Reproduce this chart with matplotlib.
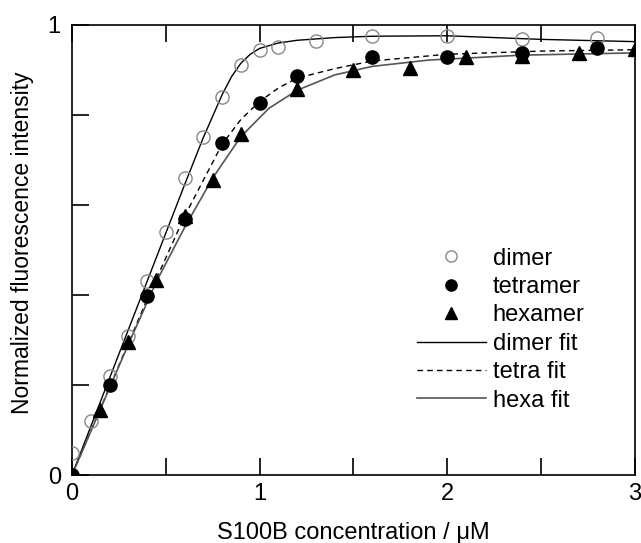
import matplotlib

matplotlib.use("Agg")
import matplotlib.pyplot as plt

plt.rcParams["font.family"] = ["Liberation Sans", "DejaVu Sans"]

DIMER_X = [0, 0.1, 0.2, 0.3, 0.4, 0.5, 0.6, 0.7, 0.8, 0.9, 1.0, 1.1, 1.3, 1.6, 2.0, 2.4, 2.8]
DIMER_Y = [0.05, 0.12, 0.22, 0.31, 0.43, 0.54, 0.66, 0.75, 0.84, 0.91, 0.945, 0.952,
           0.965, 0.975, 0.975, 0.969, 0.971]

TETRA_X = [0, 0.2, 0.4, 0.6, 0.8, 1.0, 1.2, 1.6, 2.0, 2.4, 2.8]
TETRA_Y = [0, 0.20, 0.398, 0.569, 0.737, 0.827, 0.887, 0.928, 0.928, 0.938, 0.948]

HEXA_X = [0, 0.15, 0.3, 0.45, 0.6, 0.75, 0.9, 1.2, 1.5, 1.8, 2.1, 2.4, 2.7, 3.0]
HEXA_Y = [0, 0.144, 0.296, 0.433, 0.575, 0.656, 0.757, 0.857, 0.90, 0.904, 0.928,
          0.93, 0.937, 0.946]

# fitted curves
DIMER_FIT_X = [0, 0.2, 0.4, 0.6, 0.7, 0.8, 0.85, 0.9, 0.95, 1.0, 1.1, 1.2, 1.4, 1.6, 2.0, 2.5, 3.0]
DIMER_FIT_Y = [0, 0.215, 0.43, 0.645, 0.75, 0.845, 0.885, 0.915, 0.935, 0.948, 0.96,
               0.966, 0.972, 0.975, 0.976, 0.968, 0.963]

TETRA_FIT_X = [0, 0.2, 0.4, 0.6, 0.8, 0.9, 1.0, 1.1, 1.2, 1.4, 1.6, 2.0, 2.5, 3.0]
TETRA_FIT_Y = [0, 0.195, 0.39, 0.575, 0.735, 0.79, 0.83, 0.86, 0.882, 0.903, 0.92,
               0.935, 0.942, 0.945]

HEXA_FIT_X = [0, 0.15, 0.3, 0.45, 0.6, 0.75, 0.9, 1.05, 1.2, 1.4, 1.6, 1.9, 2.4, 3.0]
HEXA_FIT_Y = [0, 0.145, 0.29, 0.43, 0.55, 0.66, 0.752, 0.815, 0.855, 0.889, 0.908,
              0.922, 0.933, 0.938]

X_TICKS = [0, 0.5, 1, 1.5, 2, 2.5, 3]
X_TICK_LABELS = ["0", "", "1", "", "2", "", "3"]
Y_TICKS = [0, 0.2, 0.4, 0.6, 0.8, 1.0]
Y_TICK_LABELS = ["0", "", "", "", "", "1"]

FONT_SIZE = 17


def draw(output_path: str) -> None:
    fig = plt.figure(figsize=(6.41, 5.43), dpi=100)
    ax = fig.add_axes([0.1123, 0.1252, 0.8783, 0.8288])

    ax.plot(DIMER_FIT_X, DIMER_FIT_Y, color="black", linewidth=1.0, label="dimer fit", zorder=2)
    ax.plot(TETRA_FIT_X, TETRA_FIT_Y, color="black", linewidth=1.0, dashes=(4, 3),
            label="tetra fit", zorder=2)
    ax.plot(HEXA_FIT_X, HEXA_FIT_Y, color="#555555", linewidth=1.2, label="hexa fit", zorder=2)

    ax.plot(DIMER_X, DIMER_Y, linestyle="none", marker="o", markersize=9.5,
            markerfacecolor="none", markeredgecolor="#888888", markeredgewidth=1.0,
            label="dimer", zorder=3)
    ax.plot(TETRA_X, TETRA_Y, linestyle="none", marker="o", markersize=9.5,
            color="black", label="tetramer", zorder=3)
    ax.plot(HEXA_X, HEXA_Y, linestyle="none", marker="^", markersize=9.5,
            color="black", label="hexamer", zorder=3)

    ax.set_xlim(0, 3)
    ax.set_ylim(0, 1)
    ax.set_xticks(X_TICKS, X_TICK_LABELS)
    ax.set_yticks(Y_TICKS, Y_TICK_LABELS)
    ax.tick_params(axis="x", direction="in", length=12, width=1.2, top=True,
                   labelsize=FONT_SIZE, pad=6)
    ax.tick_params(axis="y", direction="in", length=12, width=1.2, right=False,
                   labelsize=FONT_SIZE, pad=8)
    for spine in ax.spines.values():
        spine.set_linewidth(1.2)

    ax.set_xlabel("S100B concentration / μM", fontsize=FONT_SIZE, labelpad=12)
    ax.set_ylabel("Normalized fluorescence intensity", fontsize=16.5, labelpad=10)
    ax.yaxis.label.set_y(0.515)

    handles, labels = ax.get_legend_handles_labels()
    order = [3, 4, 5, 0, 1, 2]
    ax.legend(
        [handles[i] for i in order],
        [labels[i] for i in order],
        loc="upper left",
        bbox_to_anchor=(0.613, 0.505),
        frameon=False,
        fontsize=FONT_SIZE,
        handlelength=2.9,
        handletextpad=0.3,
        labelspacing=0.27,
        borderpad=0,
        borderaxespad=0,
        markerscale=0.85,
    )

    fig.savefig(output_path, dpi=100)
    plt.close(fig)


def main() -> None:
    draw("out.png")


if __name__ == "__main__":
    main()
